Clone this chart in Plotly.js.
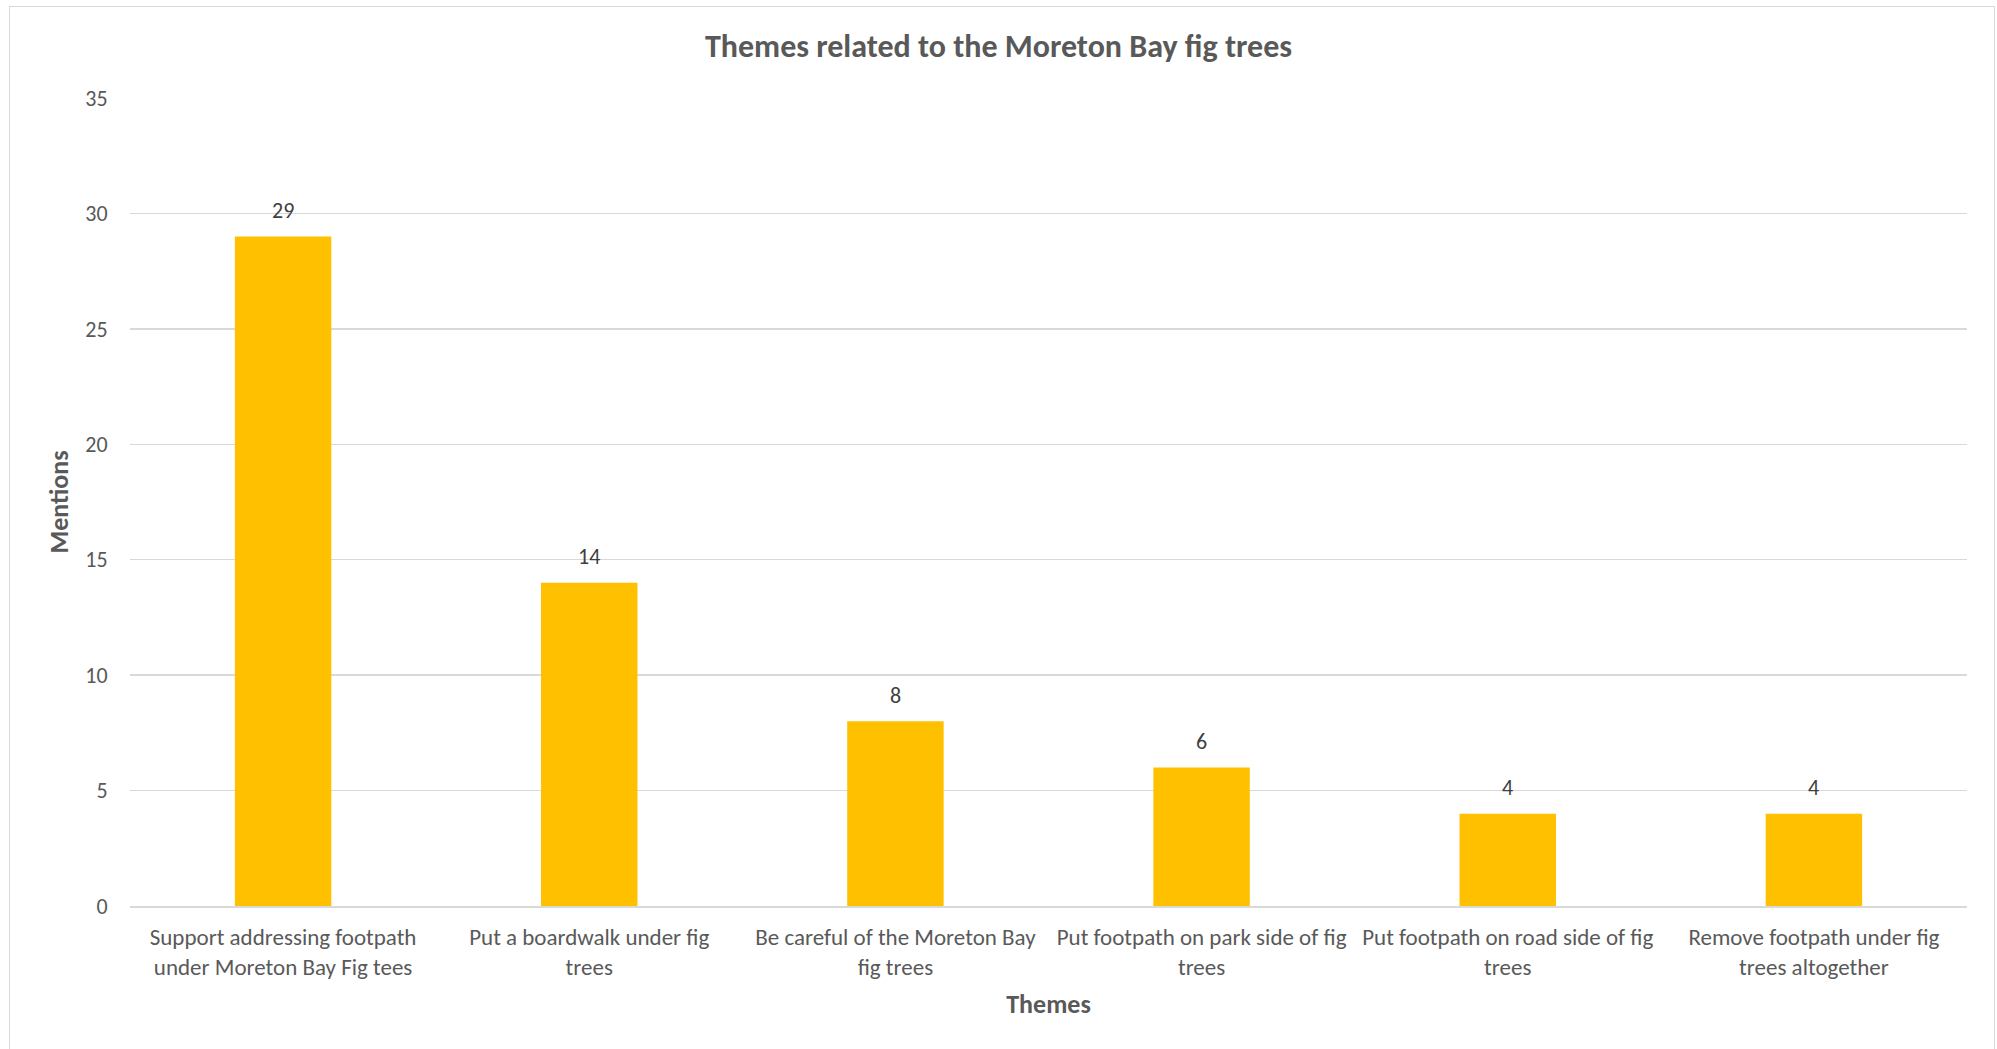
<!DOCTYPE html>
<html>
<head>
<meta charset="utf-8">
<script src="https://cdn.plot.ly/plotly-3.0.1.min.js"></script>
<style>
  html, body { margin: 0; padding: 0; background: #ffffff; }
  #wrap { position: relative; width: 1997px; height: 1049px; overflow: hidden; }
  #chart { width: 1997px; height: 1049px; }
  #frame { position: absolute; left: 9px; top: 6px; width: 1986px; height: 1060px;
           border: 1.5px solid #d9d9d9; box-sizing: border-box; pointer-events: none; }
</style>
</head>
<body>
<div id="wrap">
  <div id="chart"></div>
  <div id="frame"></div>
</div>
<script>
const categories = [
  "Support addressing footpath under Moreton Bay Fig tees",
  "Put a boardwalk under fig trees",
  "Be careful of the Moreton Bay fig trees",
  "Put footpath on park side of fig trees",
  "Put footpath on road side of fig trees",
  "Remove footpath under fig trees altogether"
];
const tickLabels = [
  "Support addressing footpath<br>under Moreton Bay Fig tees",
  "Put a boardwalk under fig<br>trees",
  "Be careful of the Moreton Bay<br>fig trees",
  "Put footpath on park side of fig<br>trees",
  "Put footpath on road side of fig<br>trees",
  "Remove footpath under fig<br>trees altogether"
];
const mentions = [29, 14, 8, 6, 4, 4];
const yTicks = [0, 5, 10, 15, 20, 25, 30, 35];

const FONT = "Carlito, Calibri, Lato, 'Open Sans', sans-serif";

const trace = {
  type: "bar",
  x: categories,
  y: mentions,
  marker: { color: "#FFC000" },
  width: 0.315,
  hoverinfo: "x+y"
};

const dataLabels = categories.map((c, i) => ({
  x: c,
  y: mentions[i],
  xref: "x",
  yref: "y",
  text: String(mentions[i]),
  showarrow: false,
  yanchor: "middle",
  yshift: 26,
  font: { family: FONT, size: 22, color: "#404040" }
}));

const layout = {
  width: 1997,
  height: 1049,
  margin: { l: 130, r: 30, t: 98, b: 143 },
  paper_bgcolor: "#ffffff",
  plot_bgcolor: "#ffffff",
  showlegend: false,
  font: { family: FONT, color: "#595959" },
  annotations: dataLabels,
  title: {
    text: "<b>Themes related to the Moreton Bay fig trees</b>",
    font: { family: FONT, size: 32, color: "#595959" },
    x: 0.5, xanchor: "center",
    y: 1 - 46 / 1049, yanchor: "middle", yref: "container"
  },
  xaxis: {
    type: "category",
    tickmode: "array",
    tickvals: categories,
    ticktext: tickLabels,
    tickfont: { family: FONT, size: 23, color: "#595959" },
    showgrid: false,
    showline: true,
    linecolor: "#d9d9d9",
    linewidth: 1.5,
    ticks: "outside",
    ticklen: 10,
    tickcolor: "rgba(0,0,0,0)",
    tickangle: 0,
    automargin: false,
    title: {
      text: "<b>Themes</b>",
      font: { family: FONT, size: 26, color: "#595959" },
      standoff: 15
    }
  },
  yaxis: {
    range: [0, 35],
    tickmode: "array",
    tickvals: yTicks,
    tickfont: { family: FONT, size: 22, color: "#595959" },
    showgrid: true,
    gridcolor: "#d9d9d9",
    gridwidth: 1.5,
    zeroline: false,
    showline: false,
    ticks: "outside",
    ticklen: 17,
    tickcolor: "rgba(0,0,0,0)",
    automargin: false,
    title: {
      text: "<b>Mentions</b>",
      font: { family: FONT, size: 26, color: "#595959" },
      standoff: 9
    }
  }
};

Plotly.newPlot("chart", [trace], layout, { displayModeBar: false, staticPlot: true });
</script>
</body>
</html>
